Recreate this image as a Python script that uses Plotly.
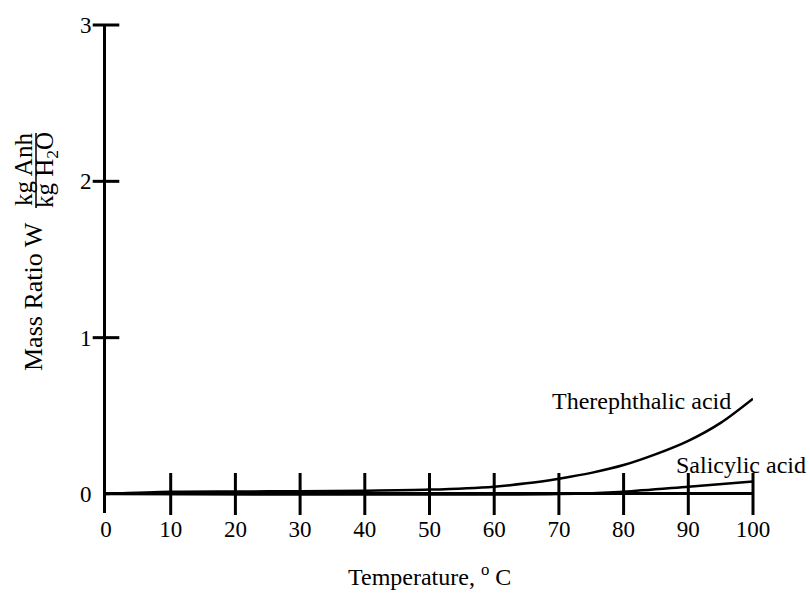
import plotly.graph_objects as go

# Temperature (deg C) and solubility as mass ratio (kg anhydrous / kg water)
temp_tere = [0, 10, 20, 30, 40, 50, 60, 65, 70, 75, 80, 85, 90, 95, 100]
w_tere = [0.0, 0.014, 0.016, 0.018, 0.021, 0.028, 0.047, 0.068, 0.098, 0.135, 0.185, 0.255, 0.34, 0.455, 0.61]

temp_sal = [0, 70, 80, 90, 100]
w_sal = [0.0, 0.0, 0.015, 0.047, 0.08]

x_ticks = [10, 20, 30, 40, 50, 60, 70, 80, 90, 100]
x_tick_labels = ["10", "20", "30", "40", "50", "60", "70", "80", "90", "100"]
y_ticks = [1, 2, 3]
y_tick_labels = ["0", "1", "2", "3"]

FONT = "Liberation Serif, Times New Roman, serif"
FS_TICK = 23
FS = 24
FS_YT = 26
FS_FRAC = 25

fig = go.Figure()

for xs, ys in [(temp_tere, w_tere), (temp_sal, w_sal)]:
    fig.add_trace(go.Scatter(x=xs, y=ys, mode="lines",
                             line=dict(color="black", width=2.5, shape="spline", smoothing=0.8),
                             hoverinfo="skip", showlegend=False, cliponaxis=False))

# crossing tick marks on the temperature axis (at W = 0)
fig.add_trace(go.Scatter(x=x_ticks, y=[0] * len(x_ticks), mode="markers",
                         marker=dict(symbol="line-ns", size=30, line=dict(color="black", width=3)),
                         hoverinfo="skip", showlegend=False, cliponaxis=False))
# crossing tick marks on the mass-ratio axis (at T = 0)
fig.add_trace(go.Scatter(x=[0] * len(y_ticks), y=y_ticks, mode="markers",
                         marker=dict(symbol="line-ew", size=19, line=dict(color="black", width=3)),
                         hoverinfo="skip", showlegend=False, cliponaxis=False))

W, H = 810, 604
L, R, T, B = 106, 57, 25, 91
pw, ph = W - L - R, H - T - B


def px(xp):
    return (xp - L) / pw


def py(yp):
    return (H - B - yp) / ph


yt_font = dict(family=FONT, size=FS_YT, color="black")
frac_font = dict(family=FONT, size=FS_FRAC, color="black")

annotations = [
    dict(x=px(641), y=py(401), xref="paper", yref="paper", text="Therephthalic acid",
         showarrow=False, xanchor="center", yanchor="middle"),
    dict(x=px(741), y=py(465), xref="paper", yref="paper", text="Salicylic acid",
         showarrow=False, xanchor="center", yanchor="middle"),
    dict(x=0.5, y=py(575), xref="paper", yref="paper", text="Temperature, <sup>o</sup> C",
         showarrow=False, xanchor="center", yanchor="middle"),
    dict(x=px(33), y=py(297), xref="paper", yref="paper", text="Mass Ratio W",
         textangle=-90, showarrow=False, xanchor="center", yanchor="middle", font=yt_font),
    dict(x=px(24), y=py(170), xref="paper", yref="paper", text="kg Anh",
         textangle=-90, showarrow=False, xanchor="center", yanchor="middle", font=frac_font),
    dict(x=px(47), y=py(170), xref="paper", yref="paper", text="kg H<sub>2</sub>O",
         textangle=-90, showarrow=False, xanchor="center", yanchor="middle", font=frac_font),
]

shapes = [
    dict(type="line", xref="paper", yref="paper", x0=px(36), x1=px(36), y0=py(133), y1=py(208),
         line=dict(color="black", width=1.5)),
]

fig.update_layout(
    width=W, height=H,
    margin=dict(l=L, r=R, t=T, b=B, pad=0),
    paper_bgcolor="white", plot_bgcolor="white",
    font=dict(family=FONT, size=FS, color="black"),
    annotations=annotations, shapes=shapes,
    xaxis=dict(range=[0, 100], tickvals=[0] + x_ticks, ticktext=["0"] + x_tick_labels,
               showgrid=False, zeroline=False, showline=False, ticks="",
               tickfont=dict(family=FONT, size=FS_TICK, color="black")),
    yaxis=dict(range=[-0.1216, 3.0], tickvals=[0] + y_ticks, ticktext=y_tick_labels,
               showgrid=False, zeroline=True, zerolinecolor="black", zerolinewidth=3,
               showline=True, linecolor="black", linewidth=3,
               ticks="outside", ticklen=7, tickcolor="rgba(0,0,0,0)",
               tickfont=dict(family=FONT, size=FS_TICK, color="black")),
)

fig.write_html("out.html")
